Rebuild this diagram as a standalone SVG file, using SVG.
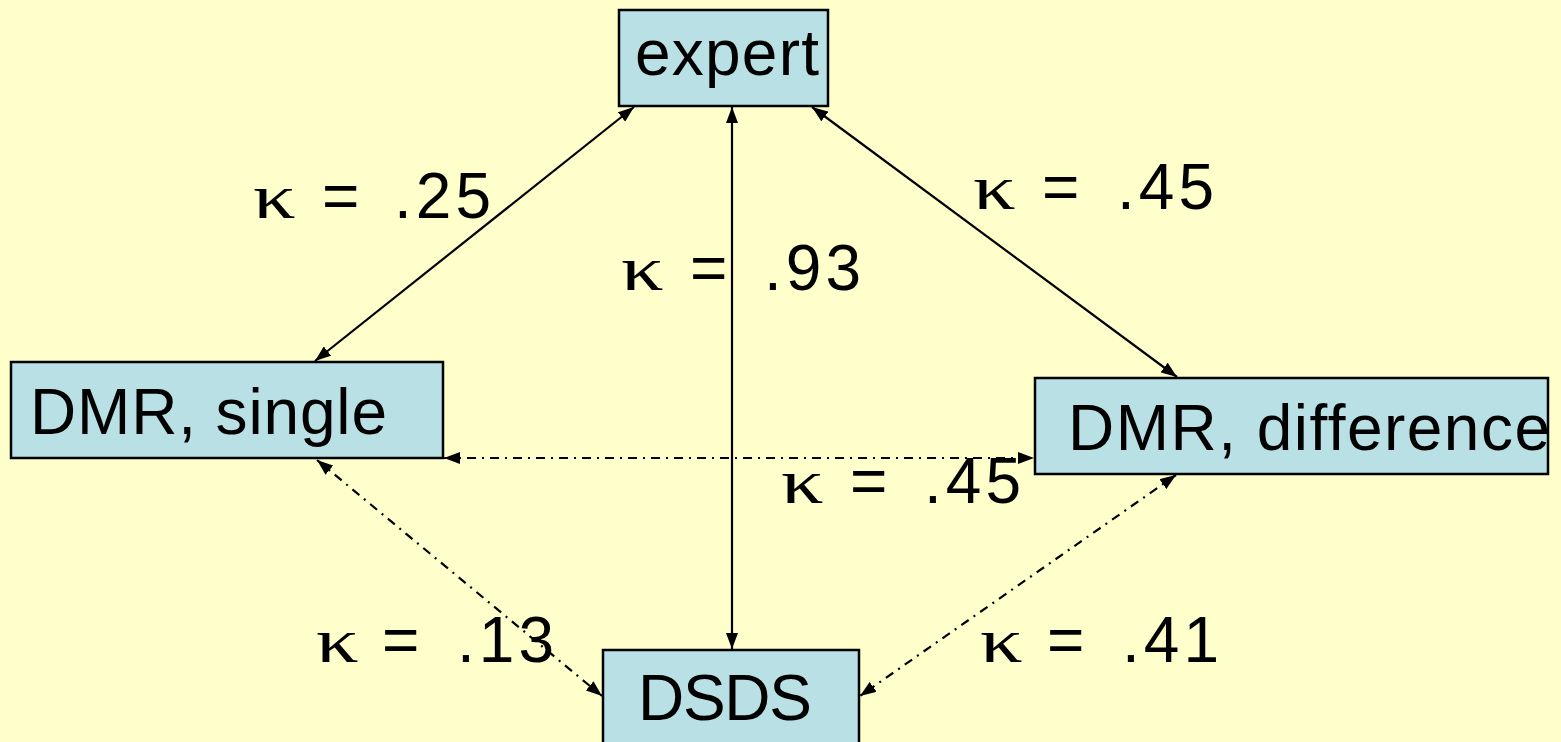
<svg xmlns="http://www.w3.org/2000/svg" width="1561" height="742" viewBox="0 0 1561 742">
  <style>
    .box { fill: #B9E0E4; stroke: #000; stroke-width: 2.5; }
    .name { font-family: "Liberation Sans", Arial, sans-serif; font-size: 64px; fill: #000; }
    .kap { font-family: "Liberation Sans", Arial, sans-serif; font-size: 64px; fill: #000; }
    .greek { font-family: "Liberation Serif", "Times New Roman", serif; font-size: 64px; fill: #000; }
    .num { letter-spacing: 4px; }
    .solid { stroke: #000; stroke-width: 2.2; fill: none; marker-start: url(#head); marker-end: url(#head); }
    .dashdot { stroke: #000; stroke-width: 2.2; fill: none; stroke-dasharray: 9 6 2 6; marker-start: url(#head); marker-end: url(#head); }
  </style>
  <defs>
    <marker id="head" viewBox="0 0 16 12" refX="16" refY="6" markerWidth="16" markerHeight="12" markerUnits="userSpaceOnUse" orient="auto-start-reverse">
      <path d="M0,0 L16,6 L0,12 Z" fill="#000"/>
    </marker>
  </defs>

  <rect width="1561" height="742" fill="#FFFFCC"/>

  <!-- connectors between the raters -->
  <g id="connectors">
    <line class="solid" x1="634" y1="107" x2="315" y2="361"/>
    <line class="solid" x1="732" y1="107" x2="732" y2="649"/>
    <line class="solid" x1="812" y1="107" x2="1177" y2="377"/>
    <line class="dashdot" x1="444" y1="458" x2="1034" y2="458"/>
    <line class="dashdot" x1="317" y1="460" x2="602" y2="696"/>
    <line class="dashdot" x1="1176" y1="475" x2="860" y2="696"/>
  </g>

  <!-- agreement values: widened kappa, then "= .nn" -->
  <g id="labels">
    <text class="greek" transform="translate(253 218) scale(1.32 1)">κ</text>
    <text class="kap" y="218"><tspan x="322">=</tspan><tspan class="num" x="394">.25</tspan></text>

    <text class="greek" transform="translate(973 209) scale(1.32 1)">κ</text>
    <text class="kap" y="209"><tspan x="1042">=</tspan><tspan class="num" x="1117">.45</tspan></text>

    <text class="greek" transform="translate(621 290) scale(1.32 1)">κ</text>
    <text class="kap" y="290"><tspan x="690">=</tspan><tspan class="num" x="764">.93</tspan></text>

    <text class="greek" transform="translate(781 503) scale(1.32 1)">κ</text>
    <text class="kap" y="503"><tspan x="850">=</tspan><tspan class="num" x="924">.45</tspan></text>

    <text class="greek" transform="translate(316 662) scale(1.32 1)">κ</text>
    <text class="kap" y="662"><tspan x="382">=</tspan><tspan class="num" x="457">.13</tspan></text>

    <text class="greek" transform="translate(980 662) scale(1.32 1)">κ</text>
    <text class="kap" y="662"><tspan x="1047">=</tspan><tspan class="num" x="1122">.41</tspan></text>
  </g>

  <g id="expert">
    <rect class="box" x="619" y="10" width="209" height="96"/>
    <text class="name" x="635" y="75" textLength="184" lengthAdjust="spacing">expert</text>
  </g>
  <g id="dmr-single">
    <rect class="box" x="11" y="362" width="432" height="96"/>
    <text class="name" x="30" y="434" textLength="357" lengthAdjust="spacing">DMR, single</text>
  </g>
  <g id="dmr-difference">
    <rect class="box" x="1035" y="378" width="513" height="96"/>
    <text class="name" x="1068" y="450" textLength="482" lengthAdjust="spacing">DMR, difference</text>
  </g>
  <g id="dsds">
    <rect class="box" x="603" y="650" width="256" height="100"/>
    <text class="name" x="638" y="720" textLength="174" lengthAdjust="spacing">DSDS</text>
  </g>
</svg>
